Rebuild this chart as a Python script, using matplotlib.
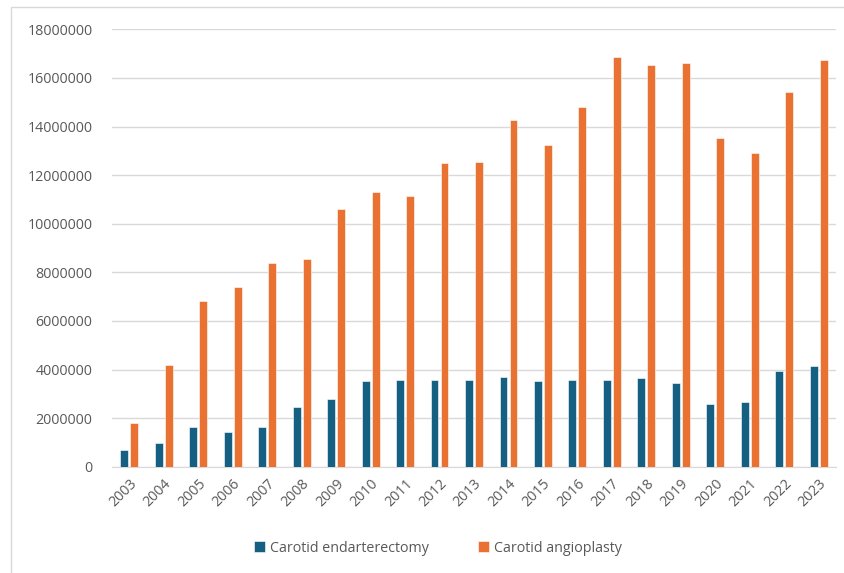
import numpy as np
import matplotlib
matplotlib.use("Agg")
import matplotlib.pyplot as plt
from matplotlib.patches import Rectangle

years = [str(y) for y in range(2003, 2024)]
endarterectomy = [690000, 990000, 1620000, 1430000, 1620000, 2470000, 2770000,
                  3510000, 3580000, 3580000, 3580000, 3700000, 3510000, 3580000,
                  3580000, 3640000, 3460000, 2590000, 2660000, 3950000, 4130000]
angioplasty = [1790000, 4200000, 6830000, 7380000, 8370000, 8560000, 10590000,
               11320000, 11140000, 12490000, 12550000, 14270000, 13230000, 14810000,
               16850000, 16540000, 16600000, 13540000, 12920000, 15430000, 16720000]
yticks = list(range(0, 18000001, 2000000))

plt.rcParams["font.family"] = ["Open Sans", "DejaVu Sans"]
grey = "#595959"
fs = 10.3

fig = plt.figure(figsize=(8.44, 5.73), dpi=100)
ax = fig.add_axes([112/844, 1 - 466.7/573, (836-112)/844, (466.7-29.3)/573])

x = np.arange(len(years))
w = 0.23
ax.bar(x - 0.145, endarterectomy, w, color="#156082", edgecolor="white",
       linewidth=0.4, label="Carotid endarterectomy", zorder=3)
ax.bar(x + 0.145, angioplasty, w, color="#E97132", edgecolor="white",
       linewidth=0.4, label="Carotid angioplasty", zorder=3)

ax.set_xlim(-0.5, len(years) - 0.5)
ax.set_ylim(0, 18000000)
ax.set_yticks(yticks)
ax.set_yticklabels([str(v) for v in yticks])
ax.set_xticks(x)
ax.set_xticklabels(years, rotation=45, ha="right", va="top",
                   rotation_mode="anchor")
ax.tick_params(axis="both", length=0, labelsize=fs, labelcolor=grey)
ax.tick_params(axis="y", pad=14)
ax.tick_params(axis="x", pad=7)
ax.grid(axis="y", color="#d9d9d9", linewidth=1, zorder=0)
for side in ["left", "right", "top"]:
    ax.spines[side].set_visible(False)
ax.spines["bottom"].set_color("#d9d9d9")
ax.spines["bottom"].set_zorder(1)

fig.legend(loc="center", bbox_to_anchor=(438/844, 1 - 548/573), ncol=2,
           frameon=False, fontsize=fs, labelcolor=grey, handlelength=0.75,
           handleheight=0.75, handletextpad=0.4, columnspacing=3.4)

# thin chart-area border
fig.add_artist(Rectangle((11/844, -0.1), 1.2, (573-7)/573 + 0.1,
                         transform=fig.transFigure, fill=False,
                         edgecolor="#d9d9d9", linewidth=1))

fig.savefig("out.png", dpi=100, facecolor="white")
